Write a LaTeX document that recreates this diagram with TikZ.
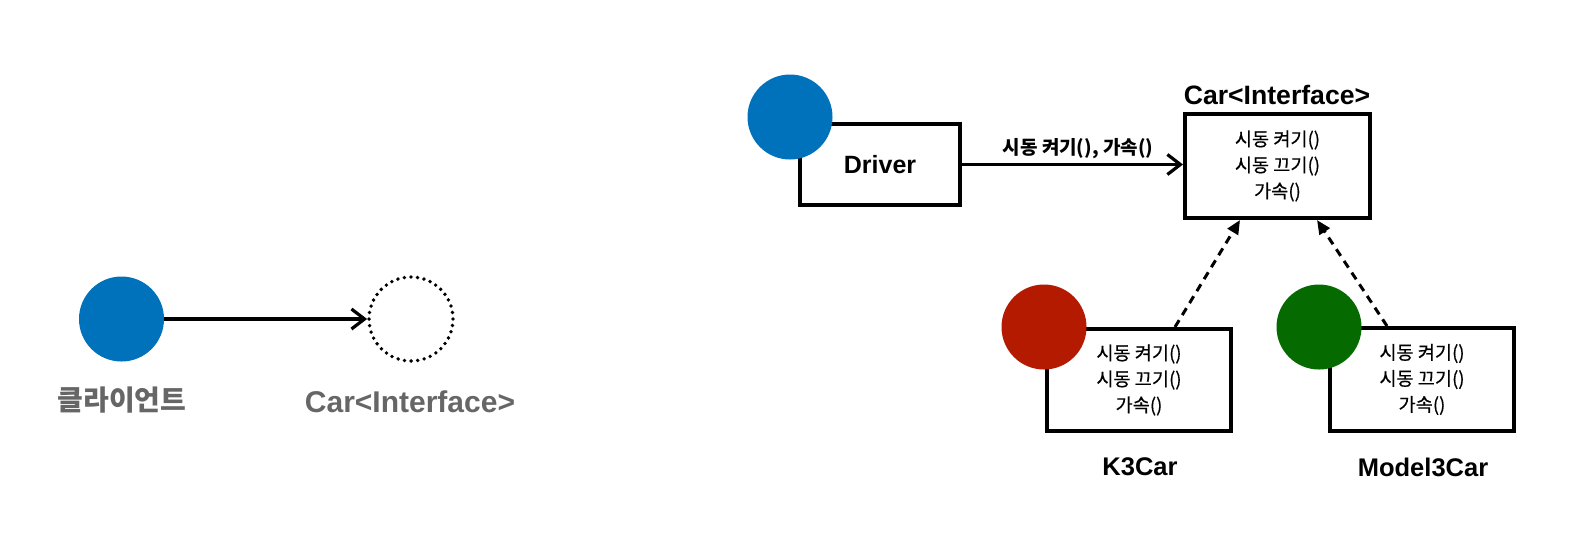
\documentclass[tikz,border=0pt]{standalone}
\usepackage{fontspec}
\setmainfont{Liberation Sans}
\newfontfamily\kr{Noto Sans CJK KR}
\newfontfamily\krm[FakeBold=0.5]{Noto Sans CJK KR}
\usetikzlibrary{arrows.meta,calc}
\definecolor{cblue}{RGB}{0,114,187}
\definecolor{cred}{RGB}{180,26,0}
\definecolor{cgreen}{RGB}{5,106,0}
\definecolor{cgray}{RGB}{102,102,102}
\tikzset{
  ibox/.style={draw=black, line width=2pt, fill=white, inner sep=0pt, align=center, font=\krm\fontsize{9.3}{13}\selectfont},
  dot/.style={circle, inner sep=0pt, minimum size=42.5pt},
  solidarrow/.style={line width=1.6pt, -{Straight Barb[length=6.5pt,width=10pt,line width=1.6pt]}},
  dasharrow/.style={line width=1.5pt, dash pattern=on 4pt off 3pt, -{Triangle[length=7pt,width=6pt]}},
  lbl/.style={inner sep=0pt, font=\bfseries\fontsize{12.75}{15}\selectfont},
}
\begin{document}
\begin{tikzpicture}[x=0.5pt,y=-0.5pt]
\fill[white] (0,0) rectangle (1578,538);
\useasboundingbox (0,0) rectangle (1578,538);
% boxes
\node[ibox, minimum width=80pt, minimum height=40.5pt, font=\bfseries\fontsize{12.5}{15}\selectfont] (drv) at (880,164.5) {Driver};
\node[ibox, minimum width=92.5pt, minimum height=52pt] (car) at (1277.5,166) {시동 켜기()\\시동 끄기()\\가속()};
\node[ibox, minimum width=92pt, minimum height=51pt] (k3) at (1139,380) {시동 켜기()\\시동 끄기()\\가속()};
\node[ibox, minimum width=92pt, minimum height=51.5pt] (m3) at (1422,379.5) {시동 켜기()\\시동 끄기()\\가속()};
% circles
\node[dot, fill=cblue] (cl) at (121.5,319) {};
\node[dot, minimum size=42pt, draw=black, line width=1.9pt, line cap=round, dash pattern=on 0pt off 3.3pt] (ci) at (411,319) {};
\node[dot, fill=cblue] (dc) at (790,117) {};
\node[dot, fill=cred] (rc) at (1044,327) {};
\node[dot, fill=cgreen] (gc) at (1319,327) {};
% labels
\node[inner sep=0pt, font=\kr\bfseries\fontsize{14}{16}\selectfont, text=cgray] (lcl) at (122,400) {클라이언트};
\node[inner sep=0pt, font=\bfseries\fontsize{15}{17}\selectfont, text=cgray] (lci) at (410,402) {Car<Interface>};
\node[inner sep=0pt, font=\bfseries\fontsize{13.3}{15}\selectfont] (tcar) at (1277,95) {Car<Interface>};
\node[lbl] (lk3) at (1140,467) {K3Car};
\node[lbl] (lm3) at (1423,467) {Model3Car};
% arrows
\draw[solidarrow] (cl) -- (ci);
\draw[solidarrow] (drv.east) -- (drv.east -| car.west);
\node[inner sep=0pt, font=\kr\bfseries\fontsize{9.5}{11}\selectfont] (alab) at (1078,149) {시동 켜기(), 가속()};
\draw[dasharrow] ([xshift=18pt]k3.north) -- ([xshift=-18.75pt]car.south);
\draw[dasharrow] ([xshift=-17.5pt]m3.north) -- ([xshift=19.75pt]car.south);
\end{tikzpicture}
\end{document}
